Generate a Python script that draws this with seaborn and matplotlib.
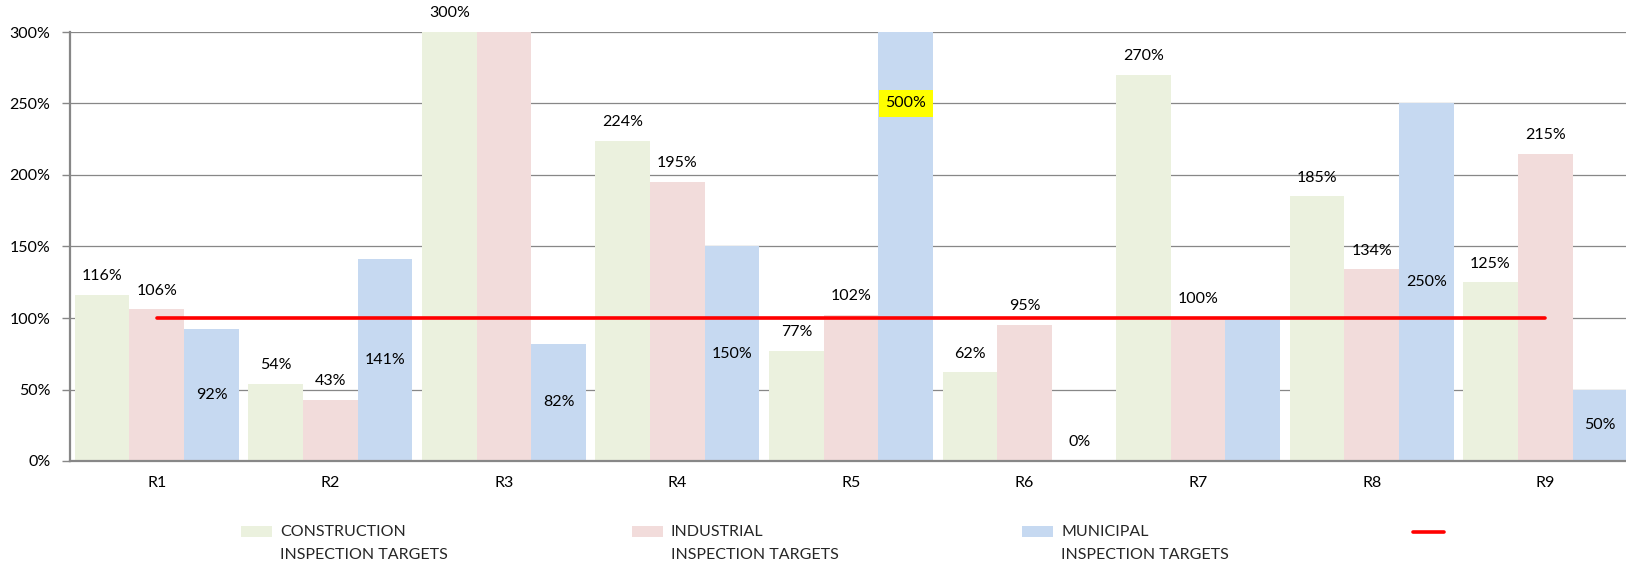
import numpy as np
import pandas as pd
import matplotlib
matplotlib.use("Agg")
import matplotlib.pyplot as plt
import seaborn as sns
from matplotlib.patches import Patch
from matplotlib.lines import Line2D
from matplotlib.ticker import MultipleLocator, FuncFormatter, FixedLocator

# ---------------- data ----------------
regions = ["R1", "R2", "R3", "R4", "R5", "R6", "R7", "R8", "R9"]
construction = [116, 54, 300, 224, 77, 62, 270, 185, 125]
industrial = [106, 43, 300, 195, 102, 95, 100, 134, 215]
municipal = [92, 141, 82, 150, 500, 0, 99, 250, 50]
target = [100, 100, 100, 100, 100, 100, 100, 100, 100]

construction_labels = ["116%", "54%", "300%", "224%", "77%", "62%", "270%", "185%", "125%"]
industrial_labels = ["106%", "43%", "", "195%", "102%", "95%", "100%", "134%", "215%"]
municipal_labels = ["92%", "141%", "82%", "150%", "500%", "0%", "", "250%", "50%"]
highlighted_municipal = ["500%"]

series_names = ["CONSTRUCTION\nINSPECTION TARGETS",
                "INDUSTRIAL\nINSPECTION TARGETS",
                "MUNICIPAL\nINSPECTION TARGETS"]
colors = ["#EBF1DE", "#F2DCDB", "#C6D9F1"]

df = pd.DataFrame({
    "region": regions * 3,
    "series": [s for s in series_names for _ in regions],
    "value": construction + industrial + municipal,
})

# ---------------- style ----------------
sns.set_theme(style="white")
plt.rcParams["font.family"] = ["Lato", "DejaVu Sans"]
FS = 11.5
GRAY = "#878787"

W, H = 1626, 565
fig = plt.figure(figsize=(W / 100, H / 100), dpi=100)
fig.patch.set_facecolor("white")
ax = fig.add_axes([70 / W, 1 - 461 / H, 1562 / W, (461 - 32) / H])

sns.barplot(data=df, x="region", y="value", hue="series", order=regions,
            hue_order=series_names, palette=colors, saturation=1,
            width=0.945, gap=0, errorbar=None, legend=False,
            linewidth=0, ax=ax)

sns.lineplot(x=np.arange(len(regions)), y=target, color="#FF0000",
             linewidth=2.6, solid_capstyle="round", ax=ax, zorder=5)

ax.set_xlim(-0.5, len(regions) - 0.5)
ax.set_ylim(0, 300)
ax.set_xlabel("")
ax.set_ylabel("")

ax.yaxis.set_major_locator(MultipleLocator(50))
ax.yaxis.set_major_formatter(FuncFormatter(lambda v, p: f"{v:.0f}%"))
ax.yaxis.grid(True, color=GRAY, linewidth=0.9)
ax.xaxis.grid(False)
ax.set_axisbelow(True)

ax.xaxis.set_minor_locator(FixedLocator(np.arange(-0.5, len(regions), 1.0)))
ax.tick_params(axis="x", which="major", length=0, pad=11, labelsize=FS, labelcolor="black")
ax.tick_params(axis="x", which="minor", length=6, width=1, color=GRAY, direction="out")
ax.tick_params(axis="y", which="major", length=6, width=1, color=GRAY, pad=8,
               labelsize=FS, labelcolor="black", left=True)

for s in ["top", "right"]:
    ax.spines[s].set_visible(False)
for s in ["left", "bottom"]:
    ax.spines[s].set_color(GRAY)
    ax.spines[s].set_linewidth(1.6)

# ---------------- labels ----------------
label_sets = [construction_labels, industrial_labels, municipal_labels]
for k, (cont, labs) in enumerate(zip(ax.containers, label_sets)):
    for bar, lab in zip(cont.patches, labs):
        if not lab:
            continue
        xc = bar.get_x() + bar.get_width() / 2
        h = bar.get_height()
        if k < 2:
            y, off = h, 13.5
        else:
            y, off = (h / 2, 0) if h > 0 else (0, 13.5)
        kw = {}
        if k == 2 and lab in highlighted_municipal:
            kw["bbox"] = dict(boxstyle="square,pad=0.42", fc="#FFFF00", ec="none")
        ax.annotate(lab, (xc, y), xytext=(0, off), textcoords="offset points",
                    ha="center", va="center", fontsize=FS, color="black",
                    annotation_clip=False, zorder=6, **kw)

# ---------------- legend ----------------
handles = [Patch(facecolor=c, edgecolor="none") for c in colors] + \
          [Line2D([0], [0], color="#FF0000", linewidth=2.6, solid_capstyle="round")]
labels = series_names + [""]


def make_legend(colspace):
    leg = fig.legend(handles, labels, ncol=4, loc="upper left",
                     bbox_to_anchor=(241 / W, 1 - 525 / H), frameon=False,
                     fontsize=FS, handlelength=1.95, handleheight=0.72,
                     handletextpad=0.5, columnspacing=colspace,
                     borderpad=0, borderaxespad=0)
    for t in leg.get_texts():
        t.set_linespacing(1.78)
    return leg


leg = make_legend(10)
fig.canvas.draw()
tw = max(t.get_window_extent().width for t in leg.get_texts()[:3])
px_per_fs = FS * 100 / 72
colspace = (390.5 - 31 - 8 - tw) / px_per_fs
leg.remove()
leg = make_legend(colspace)
for hnd in leg.legend_handles:
    if isinstance(hnd, Patch):
        hnd.set_y(hnd.get_y() + 8.3)
    else:
        yd = np.asarray(hnd.get_ydata(), dtype=float)
        hnd.set_ydata(yd + 8.3)

fig.savefig("out.png", dpi=100, facecolor="white")
